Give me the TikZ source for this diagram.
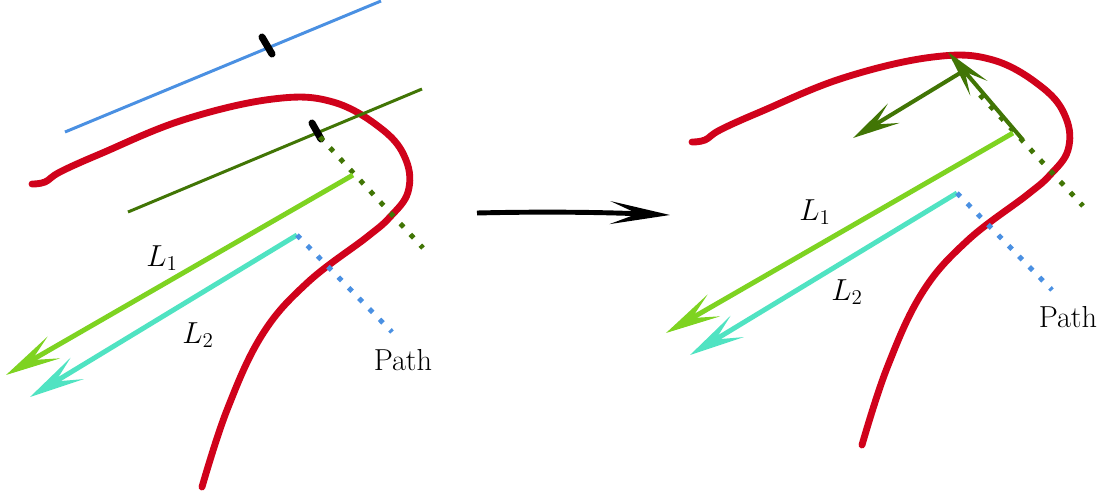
\documentclass[tikz,border=0pt]{standalone}
\usepackage{tikz}
\usetikzlibrary{arrows.meta, calc}
\definecolor{PathRed}{RGB}{208,2,27}
\definecolor{SkyBlue}{RGB}{74,144,226}
\definecolor{LeafGreen}{RGB}{126,211,33}
\definecolor{MossGreen}{RGB}{65,117,5}
\definecolor{Aqua}{RGB}{80,227,194}

\begin{document}
\begin{tikzpicture}[x=0.02cm, y=-0.02cm, font=\LARGE,
	curve/.style={PathRed, line width=3.9pt, line cap=round, line join=round},
	ref/.style={line width=1.7pt},
	tick/.style={black, line width=4pt, line cap=round},
	dots/.style={line width=2.8pt, dash pattern=on 2.8pt off 5.6pt},
	lv/.style={line width=2.8pt, -{Stealth[length=11mm, width=5mm, inset=5mm]}},
	nv/.style={MossGreen, line width=2.3pt, -{Stealth[length=9.5mm, width=4.5mm, inset=4.3mm]}},
	go/.style={black, line width=2.8pt, -{Stealth[length=12mm, width=4.6mm, inset=5.5mm]}}]

	\useasboundingbox (0,0) rectangle (1110,498);

	% --- antes ---
	\begin{scope}
		\coordinate (b1) at (65,132); \coordinate (b2) at (381,1);
		\coordinate (t1) at (262,37); \coordinate (t2) at (272,54);
		\coordinate (g1) at (128,212); \coordinate (g2) at (422,89);
		\coordinate (s1) at (312,123); \coordinate (s2) at (321,139);
		\coordinate (d1) at (320,137); \coordinate (d2) at (423,248);
		\coordinate (a1) at (353,175); \coordinate (a2) at (6,375);
		\coordinate (c1) at (297,235); \coordinate (c2) at (30,397);
		\coordinate (e2) at (392,332);
		\draw[ref, SkyBlue] (b1) -- (b2);
		\draw[tick] (t1) -- (t2);
		\draw[curve] plot[smooth, tension=0.65] coordinates {(32,184) (45,182) (60,172) (100,154) (183,120)
			(273,99) (333,102) (383,130) (406,160) (408,192) (390,217) (367,237) (307,283) (262,335)
			(227,410) (202,487)};
		\draw[ref, MossGreen] (g1) -- (g2);
		\draw[tick] (s1) -- (s2);
		\draw[dots, MossGreen] (d1) -- (d2);
		\draw[lv, LeafGreen] (a1) -- (a2);
		\draw[lv, Aqua] (c1) -- (c2);
		\draw[dots, SkyBlue] (c1) -- (e2);
		\node (l1) at (162,258) {$L_1$};
		\node (l2) at (198,335) {$L_2$};
		\node (p) at (403,360) {Path};
	\end{scope}

	% --- paso ---
	\coordinate (m1) at (477,213); \coordinate (m2) at (670,215);
	\draw[go] (m1) .. controls (560,211) and (620,213) .. (m2);

	% --- despues ---
	\begin{scope}[shift={(660,-42)}]
		\coordinate (dd1) at (320,137); \coordinate (dd2) at (423,248);
		\coordinate (aa1) at (353,175); \coordinate (aa2) at (6,375);
		\coordinate (cc1) at (297,235); \coordinate (cc2) at (30,397);
		\coordinate (ee2) at (392,332);
		\coordinate (n1) at (363,182); \coordinate (n2) at (288,94);
		\coordinate (k1) at (305,112); \coordinate (k2) at (193,180);
		\draw[curve] plot[smooth, tension=0.65] coordinates {(32,184) (45,182) (60,172) (100,154) (183,120)
			(273,99) (333,102) (383,130) (406,160) (408,192) (390,217) (367,237) (307,283) (262,335)
			(227,410) (202,487)};
		\draw[dots, MossGreen] (dd1) -- (dd2);
		\draw[nv] (n1) -- (n2);
		\draw[nv] (k1) -- (k2);
		\draw[lv, LeafGreen] (aa1) -- (aa2);
		\draw[lv, Aqua] (cc1) -- (cc2);
		\draw[dots, SkyBlue] (cc1) -- (ee2);
		\node (ll1) at (155,254) {$L_1$};
		\node (ll2) at (187,334) {$L_2$};
		\node (pp) at (408,359) {Path};
	\end{scope}
\end{tikzpicture}
\end{document}
